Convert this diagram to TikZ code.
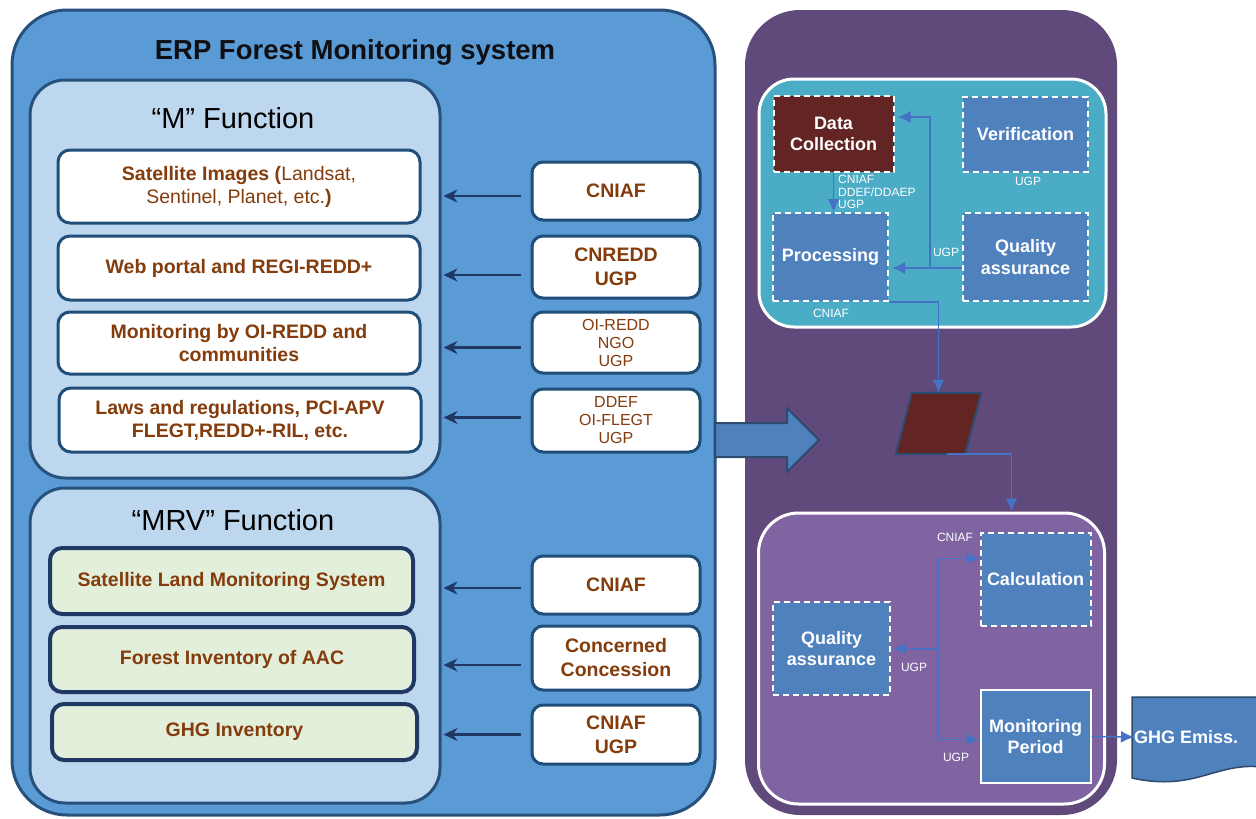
\documentclass[tikz,border=0pt]{standalone}
\usepackage{fontspec}
\setmainfont{Liberation Sans}
\usetikzlibrary{arrows.meta}

\definecolor{sysblue}{RGB}{91,155,213}
\definecolor{sysedge}{RGB}{40,80,125}
\definecolor{panelblue}{RGB}{189,215,238}
\definecolor{itemedge}{RGB}{31,78,121}
\definecolor{navy}{RGB}{31,56,100}
\definecolor{itemgreen}{RGB}{226,239,218}
\definecolor{txtbrown}{RGB}{132,60,12}
\definecolor{purpleback}{RGB}{96,74,123}
\definecolor{tealpanel}{RGB}{75,172,198}
\definecolor{stepblue}{RGB}{79,129,189}
\definecolor{darkred}{RGB}{99,37,35}
\definecolor{purplepanel}{RGB}{128,100,162}
\definecolor{flowblue}{RGB}{68,114,196}
\definecolor{shapeedge}{RGB}{45,75,110}

\tikzset{
  panel/.style={draw=sysedge, line width=3pt, fill=panelblue, rounded corners=35pt, inner sep=0pt},
  mitem/.style={draw=itemedge, line width=3pt, fill=white, rounded corners=12pt, inner sep=0pt,
    align=center, text=txtbrown, font=\fontsize{19.5}{23}\selectfont\bfseries, minimum width=362pt},
  src/.style={draw=itemedge, line width=3pt, fill=white, rounded corners=11pt, inner sep=0pt,
    align=center, text=txtbrown, font=\fontsize{19.5}{24}\selectfont\bfseries, minimum width=168pt},
  srcsmall/.style={src, font=\fontsize{16}{18}\selectfont},
  vitem/.style={draw=navy, line width=4pt, fill=itemgreen, rounded corners=12pt, inner sep=0pt,
    align=center, text=txtbrown, font=\fontsize{19.5}{23}\selectfont\bfseries},
  feed/.style={navy, line width=2.5pt, -{Stealth[length=14pt,width=13pt]}, shorten <=10pt, shorten >=2pt},
  stepbox/.style={draw=white, dash pattern=on 6pt off 4pt, line width=2pt, fill=stepblue, inner sep=0pt,
    text=white, align=center, font=\fontsize{18}{21.5}\selectfont\bfseries},
  flow/.style={flowblue, line width=1.5pt, -{Latex[length=13pt,width=12pt]}},
  tag/.style={text=white, font=\fontsize{12}{12.5}\selectfont, inner sep=0pt, align=left},
}

\begin{document}
\begin{tikzpicture}[x=1pt,y=-1pt]
\useasboundingbox (0,0) rectangle (1256,819);
\fill[white] (0,0) rectangle (1256,819);

% ---------------- left: monitoring system ----------------
\node[draw=sysedge, line width=3pt, fill=sysblue, rounded corners=55pt, inner sep=0pt,
  minimum width=703pt, minimum height=805pt] (erp) at (363.5,412.5) {};
\node[font=\fontsize{27.5}{30}\selectfont\bfseries, text={rgb,255:red,15;green,15;blue,20}] (title) at (355,52)
  {ERP Forest Monitoring system};

% "M" function panel
\node[panel, minimum width=410pt, minimum height=398pt] (mpanel) at (235,279) {};
\node[font=\fontsize{29}{32}\selectfont] (mtitle) at (233,118) {“M” Function};

\node[mitem, minimum height=73pt] (m1) at (239,186.5)
  {Satellite Images ({\mdseries Landsat,}\\{\mdseries Sentinel, Planet, etc.})};
\node[mitem, minimum height=64pt] (m2) at (239,268) {Web portal and REGI-REDD+};
\node[mitem, minimum height=62pt] (m3) at (239,343) {Monitoring by OI-REDD and\\communities};
\node[mitem, minimum height=64pt] (m4) at (240,420) {Laws and regulations, PCI-APV\\FLEGT,REDD+-RIL, etc.};

\node[src, minimum height=58pt] (r1) at (616,191) {CNIAF};
\node[src, minimum height=62pt] (r2) at (616,267) {CNREDD\\UGP};
\node[srcsmall, minimum height=61pt] (r3) at (616,342.5) {OI-REDD\\NGO\\UGP};
\node[srcsmall, minimum height=63pt] (r4) at (616,420.5) {DDEF\\OI-FLEGT\\UGP};

% "MRV" function panel
\node[panel, minimum width=410pt, minimum height=315pt] (vpanel) at (235,645.5) {};
\node[font=\fontsize{29}{32}\selectfont] (vtitle) at (233,520) {“MRV” Function};

\node[vitem, minimum width=363pt, minimum height=66pt] (v1) at (231.5,581) {Satellite Land Monitoring System};
\node[vitem, minimum width=364pt, minimum height=65pt] (v2) at (232,659.5) {Forest Inventory of AAC};
\node[vitem, minimum width=365pt, minimum height=56pt] (v3) at (234.5,732) {GHG Inventory};

\node[src, minimum height=58pt] (s1) at (616,585) {CNIAF};
\node[src, minimum height=64pt] (s2) at (616,658) {Concerned\\Concession};
\node[src, minimum height=59pt] (s3) at (616,734.5) {CNIAF\\UGP};

% responsible bodies feed each component
\foreach \s/\d/\p in {r1/-5/mpanel, r2/-8/mpanel, r3/-5/mpanel, r4/3/mpanel,
                      s1/-3/vpanel, s2/-7/vpanel, s3/0/vpanel} {
  \path ([yshift=\d pt]\s.west) coordinate (feedstart);
  \draw[feed] (feedstart) -- (feedstart -| \p.east);
}

% ---------------- right: MRV process ----------------
\node[fill=purpleback, rounded corners=55pt, inner sep=0pt,
  minimum width=372pt, minimum height=805pt] (proc-area) at (931,412.5) {};

% upper stage
\node[draw=white, line width=3pt, fill=tealpanel, rounded corners=35pt, inner sep=0pt,
  minimum width=347pt, minimum height=248pt] (tpanel) at (932.5,203) {};
\node[stepbox, fill=darkred, minimum width=120pt, minimum height=76pt] (dc) at (833.5,134) {Data\\Collection};
\node[stepbox, minimum width=125pt, minimum height=75pt] (ver) at (1025.5,134.5) {Verification};
\node[stepbox, minimum width=115pt, minimum height=88pt] (proc) at (830.5,257) {Processing};
\node[stepbox, minimum width=125pt, minimum height=88pt] (qa1) at (1025.5,257) {Quality\\assurance};

\node[tag] (ugpver) at (1028,181) {UGP};
\node[tag] (ugpqa) at (946,252) {UGP};
\node[tag] (cniafproc) at (831,313) {CNIAF};
\node[tag, anchor=north west] (dcbodies) at (838,175) {CNIAF\\DDEF/DDAEP\\UGP};

\draw[flow] (dc.south) -- (dc.south |- proc.north);
\path ([yshift=-11pt]qa1.west) coordinate (qaout);
\draw[flow, shorten >=3pt] (qaout) -- ++(-32,0) |- ([yshift=17pt]dc.east);
\draw[flow, shorten >=3pt] (qaout) -- (qaout -| proc.east);

% intermediate data product
\node[inner sep=0pt, minimum width=85pt, minimum height=61pt] (para) at (938.5,423.5) {};
\filldraw[fill=darkred, draw=shapeedge, line width=2pt]
  ([xshift=16pt]para.north west) -- (para.north east) -- ([xshift=-16pt]para.south east)
  -- (para.south west) -- cycle;
\draw[flow] (proc.south east) -| (para.north);

% lower stage
\node[draw=white, line width=3pt, fill=purplepanel, rounded corners=40pt, inner sep=0pt,
  minimum width=346pt, minimum height=291pt] (bpanel) at (931.5,658.5) {};
\path ([xshift=8pt]para.south) coordinate (paraout);
\draw[flow] (paraout) -| ([xshift=80pt]bpanel.north);

\node[stepbox, minimum width=110pt, minimum height=93pt] (calc) at (1035.5,579.5) {Calculation};
\node[stepbox, minimum width=117pt, minimum height=93pt] (qa2) at (831.5,648.5) {Quality\\assurance};
\node[draw=white, line width=2pt, fill=stepblue, inner sep=0pt, text=white, align=center,
  font=\fontsize{18}{21.5}\selectfont\bfseries, minimum width=110pt, minimum height=93pt]
  (mp) at (1035.5,736.5) {Monitoring\\Period};

\node[tag] (cniafcalc) at (955,537) {CNIAF};
\node[tag] (ugpqa2) at (914,667) {UGP};
\node[tag] (ugpmp) at (956,757) {UGP};

\coordinate (hub) at (938,649);
\draw[flow] (hub) |- ([yshift=21pt]calc.west);
\draw[flow, shorten >=2pt] (hub) -- (qa2.east);
\draw[flow] (hub) |- ([yshift=-3pt]mp.west);

% output document
\begin{scope}
  \clip (0,0) rectangle (1256,819);
  \filldraw[fill=stepblue, draw=shapeedge, line width=1.5pt]
    (1132,697) -- (1262,697) -- (1262,767)
    .. controls (1215,762) and (1195,792) .. (1132,778) -- cycle;
\end{scope}
\node[anchor=west, inner sep=0pt, text=white, font=\fontsize{18}{20}\selectfont\bfseries]
  (ghg) at (1134,737) {GHG Emiss.};
\draw[flow] (mp.east) -- (ghg.west);

% hand-over from the monitoring system to the MRV process
\filldraw[fill=stepblue, draw=shapeedge, line width=2pt]
  (715,423) -- (787,423) -- (787,408) -- (819,440) -- (787,472) -- (787,457) -- (715,457) -- cycle;
\end{tikzpicture}
\end{document}
